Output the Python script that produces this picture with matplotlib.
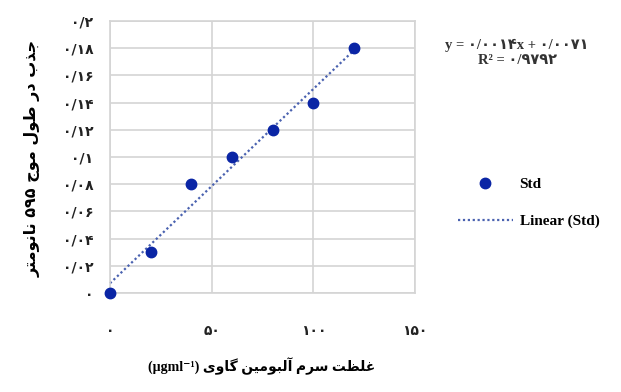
import matplotlib
matplotlib.use("Agg")
import matplotlib.pyplot as plt
import numpy as np
from matplotlib.lines import Line2D

# ---- data ----
conc = [0, 20, 40, 60, 80, 100, 120]
absorb = [0.0, 0.030, 0.080, 0.100, 0.120, 0.140, 0.180]
xticks = [0, 50, 100, 150]
xticklabels = ['۰', '۵۰', '۱۰۰', '۱۵۰']
yticks = [0, 0.02, 0.04, 0.06, 0.08, 0.10, 0.12, 0.14, 0.16, 0.18, 0.20]
yticklabels = ['۰', '۰/۰۲', '۰/۰۴', '۰/۰۶', '۰/۰۸', '۰/۱', '۰/۱۲', '۰/۱۴', '۰/۱۶', '۰/۱۸', '۰/۲']
eq_text = 'y = ۰/۰۰۱۴x + ۰/۰۰۷۱'
r2_text = 'R² = ۰/۹۷۹۲'
xlabel_fa = 'غلظت سرم آلبومین گاوی'
xlabel_unit = '(µgml⁻¹)'
ylabel_fa = 'جذب در طول موج ۵۹۵ نانومتر'
legend_labels = ['Std', 'Linear (Std)']

# ---- minimal Persian shaping (presentation forms) ----
FORMS = {
    'ا': ('\uFE8D', '\uFE8E', None, None),
    'آ': ('\uFE81', '\uFE82', None, None),
    'ب': ('\uFE8F', '\uFE90', '\uFE91', '\uFE92'),
    'ت': ('\uFE95', '\uFE96', '\uFE97', '\uFE98'),
    'ج': ('\uFE9D', '\uFE9E', '\uFE9F', '\uFEA0'),
    'د': ('\uFEA9', '\uFEAA', None, None),
    'ذ': ('\uFEAB', '\uFEAC', None, None),
    'ر': ('\uFEAD', '\uFEAE', None, None),
    'س': ('\uFEB1', '\uFEB2', '\uFEB3', '\uFEB4'),
    'ط': ('\uFEC1', '\uFEC2', '\uFEC3', '\uFEC4'),
    'ظ': ('\uFEC5', '\uFEC6', '\uFEC7', '\uFEC8'),
    'غ': ('\uFECD', '\uFECE', '\uFECF', '\uFED0'),
    'ل': ('\uFEDD', '\uFEDE', '\uFEDF', '\uFEE0'),
    'م': ('\uFEE1', '\uFEE2', '\uFEE3', '\uFEE4'),
    'ن': ('\uFEE5', '\uFEE6', '\uFEE7', '\uFEE8'),
    'و': ('\uFEED', '\uFEEE', None, None),
    'ی': ('\uFBFC', '\uFBFD', '\uFBFE', '\uFBFF'),
    'گ': ('\uFB92', '\uFB93', '\uFB94', '\uFB95'),
}


def shape_rtl(text):
    out = []
    n = len(text)
    for i, c in enumerate(text):
        if c not in FORMS:
            out.append(c)
            continue
        iso, fin, ini, med = FORMS[c]
        prev_c = text[i - 1] if i > 0 else ''
        next_c = text[i + 1] if i + 1 < n else ''
        prev_join = prev_c in FORMS and FORMS[prev_c][2] is not None
        next_join = next_c in FORMS and ini is not None
        if prev_join and next_join:
            out.append(med)
        elif prev_join:
            out.append(fin)
        elif next_join:
            out.append(ini)
        else:
            out.append(iso)
    return ''.join(reversed(out))


FA = ['DejaVu Sans']
SERIF = ['Liberation Serif', 'DejaVu Sans']

fig = plt.figure(figsize=(6.21, 3.92), dpi=100)
ax = fig.add_axes([110 / 621, 1 - 293 / 392, 305 / 621, 272 / 392])

grid_c = '#D4D4D4'
ax.set_xlim(0, 150)
ax.set_ylim(0, 0.2)
ax.set_xticks(xticks)
ax.set_xticklabels(xticklabels, family=FA, fontsize=10, fontweight='bold')
ax.set_yticks(yticks)
ax.set_yticklabels(yticklabels, family=FA, fontsize=10, fontweight='bold')
ax.tick_params(length=0, colors='#222222')
ax.tick_params(axis='x', pad=22)
ax.tick_params(axis='y', pad=12)
ax.grid(True, color=grid_c, linewidth=1.2)
ax.set_axisbelow(True)
for s in ax.spines.values():
    s.set_color(grid_c)
    s.set_linewidth(1.2)

# trend line (least squares)
slope, intercept = np.polyfit(conc, absorb, 1)
xs = np.array([min(conc), max(conc)])
ax.plot(xs, slope * xs + intercept, linestyle=(0, (1, 1.2)), color='#4A62B0',
        linewidth=1.6, zorder=2, clip_on=False)
ax.plot(conc, absorb, 'o', color='#0A25A5', markersize=7.5, zorder=3, clip_on=False)

# axis labels
fig.text(262 / 621, 1 - 366 / 392, xlabel_unit + ' ' + shape_rtl(xlabel_fa),
         family=SERIF, fontsize=10, fontweight='bold', ha='center', va='center')
fig.text(33 / 621, 1 - 158 / 392, shape_rtl(ylabel_fa), family=FA, fontsize=11.5,
         fontweight='bold', rotation=90, ha='center', va='center')

# equation
fig.text(517 / 621, 1 - 45 / 392, eq_text, family=SERIF, fontsize=10.5,
         fontweight='bold', ha='center', va='center', color='#333333')
fig.text(517 / 621, 1 - 61 / 392, r2_text, family=SERIF, fontsize=10.5,
         fontweight='bold', ha='center', va='center', color='#333333')

# legend
h1 = Line2D([], [], marker='o', linestyle='none', color='#0A25A5', markersize=7.5)
h2 = Line2D([], [], linestyle=(0, (1, 1.2)), color='#4A62B0', linewidth=1.6)
fig.legend([h1, h2], legend_labels, loc='center left',
           bbox_to_anchor=(444 / 621, 1 - 203 / 392), frameon=False,
           prop={'family': 'Liberation Serif', 'weight': 'bold', 'size': 11},
           handlelength=3.6, handletextpad=0.45, labelspacing=1.5)

fig.savefig('out.png', dpi=100)
